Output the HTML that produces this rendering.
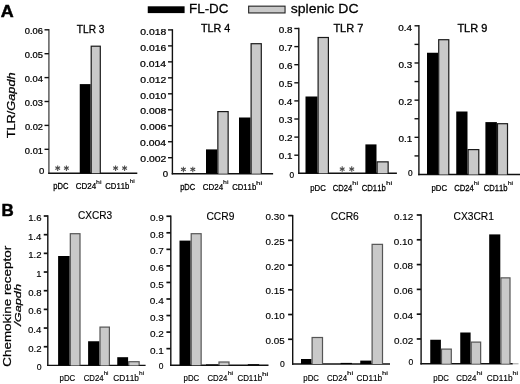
<!DOCTYPE html>
<html><head><meta charset="utf-8"><style>
html,body{margin:0;padding:0;background:#fff;width:520px;height:384px;overflow:hidden}
svg{display:block;will-change:transform}
text{font-family:"Liberation Sans", sans-serif;font-kerning:none}
</style></head><body>
<svg width="520" height="384" viewBox="0 0 520 384" font-family='"Liberation Sans", sans-serif' style="font-kerning:none">
<rect width="520" height="384" fill="#fff"/>
<line x1="48.90" y1="29.10" x2="48.90" y2="173.90" stroke="#505050" stroke-width="1.4"/>
<line x1="48.20" y1="173.20" x2="137.30" y2="173.20" stroke="#111" stroke-width="1.4"/>
<line x1="44.50" y1="149.30" x2="48.90" y2="149.30" stroke="#111" stroke-width="1.4"/>
<line x1="44.50" y1="125.40" x2="48.90" y2="125.40" stroke="#111" stroke-width="1.4"/>
<line x1="44.50" y1="101.50" x2="48.90" y2="101.50" stroke="#111" stroke-width="1.4"/>
<line x1="44.50" y1="77.60" x2="48.90" y2="77.60" stroke="#111" stroke-width="1.4"/>
<line x1="44.50" y1="53.70" x2="48.90" y2="53.70" stroke="#111" stroke-width="1.4"/>
<line x1="44.50" y1="29.80" x2="48.90" y2="29.80" stroke="#111" stroke-width="1.4"/>
<rect x="79.75" y="84.10" width="10.85" height="89.10" fill="#000"/>
<rect x="90.60" y="45.60" width="10.30" height="127.60" fill="#1a1a1a"/>
<rect x="91.80" y="46.80" width="7.90" height="126.40" fill="#c9c9c9"/>
<line x1="57.70" y1="165.45" x2="57.70" y2="170.95" stroke="#4a4a4a" stroke-width="1.05"/>
<line x1="55.32" y1="166.82" x2="60.08" y2="169.57" stroke="#4a4a4a" stroke-width="1.05"/>
<line x1="60.08" y1="166.82" x2="55.32" y2="169.57" stroke="#4a4a4a" stroke-width="1.05"/>
<line x1="66.40" y1="165.45" x2="66.40" y2="170.95" stroke="#4a4a4a" stroke-width="1.05"/>
<line x1="64.02" y1="166.82" x2="68.78" y2="169.57" stroke="#4a4a4a" stroke-width="1.05"/>
<line x1="68.78" y1="166.82" x2="64.02" y2="169.57" stroke="#4a4a4a" stroke-width="1.05"/>
<line x1="115.60" y1="165.45" x2="115.60" y2="170.95" stroke="#4a4a4a" stroke-width="1.05"/>
<line x1="113.22" y1="166.82" x2="117.98" y2="169.57" stroke="#4a4a4a" stroke-width="1.05"/>
<line x1="117.98" y1="166.82" x2="113.22" y2="169.57" stroke="#4a4a4a" stroke-width="1.05"/>
<line x1="124.60" y1="165.45" x2="124.60" y2="170.95" stroke="#4a4a4a" stroke-width="1.05"/>
<line x1="122.22" y1="166.82" x2="126.98" y2="169.57" stroke="#4a4a4a" stroke-width="1.05"/>
<line x1="126.98" y1="166.82" x2="122.22" y2="169.57" stroke="#4a4a4a" stroke-width="1.05"/>
<line x1="172.40" y1="29.20" x2="172.40" y2="174.40" stroke="#111" stroke-width="1.4"/>
<line x1="171.70" y1="173.70" x2="273.10" y2="173.70" stroke="#111" stroke-width="1.4"/>
<line x1="168.00" y1="157.72" x2="172.40" y2="157.72" stroke="#111" stroke-width="1.4"/>
<line x1="168.00" y1="141.74" x2="172.40" y2="141.74" stroke="#111" stroke-width="1.4"/>
<line x1="168.00" y1="125.77" x2="172.40" y2="125.77" stroke="#111" stroke-width="1.4"/>
<line x1="168.00" y1="109.79" x2="172.40" y2="109.79" stroke="#111" stroke-width="1.4"/>
<line x1="168.00" y1="93.81" x2="172.40" y2="93.81" stroke="#111" stroke-width="1.4"/>
<line x1="168.00" y1="77.83" x2="172.40" y2="77.83" stroke="#111" stroke-width="1.4"/>
<line x1="168.00" y1="61.86" x2="172.40" y2="61.86" stroke="#111" stroke-width="1.4"/>
<line x1="168.00" y1="45.88" x2="172.40" y2="45.88" stroke="#111" stroke-width="1.4"/>
<line x1="168.00" y1="29.90" x2="172.40" y2="29.90" stroke="#111" stroke-width="1.4"/>
<rect x="206.00" y="149.40" width="11.25" height="24.30" fill="#000"/>
<rect x="217.25" y="111.00" width="11.50" height="62.70" fill="#1a1a1a"/>
<rect x="218.45" y="112.20" width="9.10" height="61.50" fill="#c9c9c9"/>
<rect x="239.00" y="117.50" width="11.50" height="56.20" fill="#000"/>
<rect x="250.50" y="43.10" width="11.40" height="130.60" fill="#1a1a1a"/>
<rect x="251.70" y="44.30" width="9.00" height="129.40" fill="#c9c9c9"/>
<line x1="183.40" y1="166.65" x2="183.40" y2="172.15" stroke="#4a4a4a" stroke-width="1.05"/>
<line x1="181.02" y1="168.03" x2="185.78" y2="170.78" stroke="#4a4a4a" stroke-width="1.05"/>
<line x1="185.78" y1="168.03" x2="181.02" y2="170.78" stroke="#4a4a4a" stroke-width="1.05"/>
<line x1="192.80" y1="166.65" x2="192.80" y2="172.15" stroke="#4a4a4a" stroke-width="1.05"/>
<line x1="190.42" y1="168.03" x2="195.18" y2="170.78" stroke="#4a4a4a" stroke-width="1.05"/>
<line x1="195.18" y1="168.03" x2="190.42" y2="170.78" stroke="#4a4a4a" stroke-width="1.05"/>
<line x1="298.80" y1="27.80" x2="298.80" y2="174.00" stroke="#111" stroke-width="1.4"/>
<line x1="298.10" y1="173.30" x2="396.90" y2="173.30" stroke="#111" stroke-width="1.4"/>
<line x1="294.30" y1="155.20" x2="298.80" y2="155.20" stroke="#111" stroke-width="1.4"/>
<line x1="294.30" y1="137.10" x2="298.80" y2="137.10" stroke="#111" stroke-width="1.4"/>
<line x1="294.30" y1="119.00" x2="298.80" y2="119.00" stroke="#111" stroke-width="1.4"/>
<line x1="294.30" y1="100.90" x2="298.80" y2="100.90" stroke="#111" stroke-width="1.4"/>
<line x1="294.30" y1="82.80" x2="298.80" y2="82.80" stroke="#111" stroke-width="1.4"/>
<line x1="294.30" y1="64.70" x2="298.80" y2="64.70" stroke="#111" stroke-width="1.4"/>
<line x1="294.30" y1="46.60" x2="298.80" y2="46.60" stroke="#111" stroke-width="1.4"/>
<line x1="294.30" y1="28.50" x2="298.80" y2="28.50" stroke="#111" stroke-width="1.4"/>
<rect x="305.50" y="96.50" width="12.00" height="76.80" fill="#000"/>
<rect x="317.50" y="36.90" width="11.50" height="136.40" fill="#1a1a1a"/>
<rect x="318.70" y="38.10" width="9.10" height="135.20" fill="#c9c9c9"/>
<rect x="365.40" y="144.40" width="11.10" height="28.90" fill="#000"/>
<rect x="376.50" y="161.25" width="12.25" height="12.05" fill="#1a1a1a"/>
<rect x="377.70" y="162.45" width="9.85" height="10.85" fill="#c9c9c9"/>
<line x1="342.20" y1="166.35" x2="342.20" y2="171.85" stroke="#4a4a4a" stroke-width="1.05"/>
<line x1="339.82" y1="167.72" x2="344.58" y2="170.47" stroke="#4a4a4a" stroke-width="1.05"/>
<line x1="344.58" y1="167.72" x2="339.82" y2="170.47" stroke="#4a4a4a" stroke-width="1.05"/>
<line x1="351.75" y1="166.35" x2="351.75" y2="171.85" stroke="#4a4a4a" stroke-width="1.05"/>
<line x1="349.37" y1="167.72" x2="354.13" y2="170.47" stroke="#4a4a4a" stroke-width="1.05"/>
<line x1="354.13" y1="167.72" x2="349.37" y2="170.47" stroke="#4a4a4a" stroke-width="1.05"/>
<line x1="418.90" y1="25.10" x2="418.90" y2="175.20" stroke="#111" stroke-width="1.4"/>
<line x1="418.20" y1="174.50" x2="520.00" y2="174.50" stroke="#111" stroke-width="1.4"/>
<line x1="414.50" y1="155.91" x2="418.90" y2="155.91" stroke="#111" stroke-width="1.4"/>
<line x1="414.50" y1="137.32" x2="418.90" y2="137.32" stroke="#111" stroke-width="1.4"/>
<line x1="414.50" y1="118.74" x2="418.90" y2="118.74" stroke="#111" stroke-width="1.4"/>
<line x1="414.50" y1="100.15" x2="418.90" y2="100.15" stroke="#111" stroke-width="1.4"/>
<line x1="414.50" y1="81.56" x2="418.90" y2="81.56" stroke="#111" stroke-width="1.4"/>
<line x1="414.50" y1="62.98" x2="418.90" y2="62.98" stroke="#111" stroke-width="1.4"/>
<line x1="414.50" y1="44.39" x2="418.90" y2="44.39" stroke="#111" stroke-width="1.4"/>
<line x1="414.50" y1="25.80" x2="418.90" y2="25.80" stroke="#111" stroke-width="1.4"/>
<rect x="427.00" y="52.75" width="11.10" height="121.75" fill="#000"/>
<rect x="438.10" y="39.10" width="11.30" height="135.40" fill="#1a1a1a"/>
<rect x="439.30" y="40.30" width="8.90" height="134.20" fill="#c9c9c9"/>
<rect x="456.25" y="111.50" width="11.25" height="63.00" fill="#000"/>
<rect x="467.50" y="149.00" width="11.90" height="25.50" fill="#1a1a1a"/>
<rect x="468.70" y="150.20" width="9.50" height="24.30" fill="#c9c9c9"/>
<rect x="485.40" y="122.10" width="11.50" height="52.40" fill="#000"/>
<rect x="496.90" y="123.10" width="11.20" height="51.40" fill="#1a1a1a"/>
<rect x="498.10" y="124.30" width="8.80" height="50.20" fill="#c9c9c9"/>
<line x1="47.80" y1="215.30" x2="47.80" y2="366.10" stroke="#111" stroke-width="1.4"/>
<line x1="47.10" y1="365.40" x2="145.60" y2="365.40" stroke="#111" stroke-width="1.4"/>
<line x1="43.75" y1="346.72" x2="47.80" y2="346.72" stroke="#111" stroke-width="1.7"/>
<line x1="43.75" y1="328.05" x2="47.80" y2="328.05" stroke="#111" stroke-width="1.7"/>
<line x1="43.75" y1="309.38" x2="47.80" y2="309.38" stroke="#111" stroke-width="1.7"/>
<line x1="43.75" y1="290.70" x2="47.80" y2="290.70" stroke="#111" stroke-width="1.7"/>
<line x1="43.75" y1="272.02" x2="47.80" y2="272.02" stroke="#111" stroke-width="1.7"/>
<line x1="43.75" y1="253.35" x2="47.80" y2="253.35" stroke="#111" stroke-width="1.7"/>
<line x1="43.75" y1="234.68" x2="47.80" y2="234.68" stroke="#111" stroke-width="1.7"/>
<line x1="43.75" y1="216.00" x2="47.80" y2="216.00" stroke="#111" stroke-width="1.7"/>
<rect x="58.10" y="256.00" width="11.60" height="109.40" fill="#000"/>
<rect x="69.70" y="233.10" width="10.90" height="132.30" fill="#555"/>
<rect x="70.90" y="234.30" width="8.50" height="131.10" fill="#c9c9c9"/>
<rect x="88.10" y="341.25" width="11.30" height="24.15" fill="#000"/>
<rect x="99.40" y="326.50" width="10.60" height="38.90" fill="#555"/>
<rect x="100.60" y="327.70" width="8.20" height="37.70" fill="#c9c9c9"/>
<rect x="117.25" y="357.20" width="10.85" height="8.20" fill="#000"/>
<rect x="128.10" y="361.10" width="11.65" height="4.30" fill="#555"/>
<rect x="129.30" y="362.30" width="9.25" height="3.10" fill="#c9c9c9"/>
<line x1="170.80" y1="215.55" x2="170.80" y2="365.90" stroke="#111" stroke-width="1.4"/>
<line x1="170.10" y1="365.20" x2="268.50" y2="365.20" stroke="#111" stroke-width="1.4"/>
<line x1="166.40" y1="348.65" x2="170.80" y2="348.65" stroke="#111" stroke-width="1.7"/>
<line x1="166.40" y1="332.10" x2="170.80" y2="332.10" stroke="#111" stroke-width="1.7"/>
<line x1="166.40" y1="315.55" x2="170.80" y2="315.55" stroke="#111" stroke-width="1.7"/>
<line x1="166.40" y1="299.00" x2="170.80" y2="299.00" stroke="#111" stroke-width="1.7"/>
<line x1="166.40" y1="282.45" x2="170.80" y2="282.45" stroke="#111" stroke-width="1.7"/>
<line x1="166.40" y1="265.90" x2="170.80" y2="265.90" stroke="#111" stroke-width="1.7"/>
<line x1="166.40" y1="249.35" x2="170.80" y2="249.35" stroke="#111" stroke-width="1.7"/>
<line x1="166.40" y1="232.80" x2="170.80" y2="232.80" stroke="#111" stroke-width="1.7"/>
<line x1="166.40" y1="216.25" x2="170.80" y2="216.25" stroke="#111" stroke-width="1.7"/>
<rect x="179.50" y="240.60" width="11.10" height="124.60" fill="#000"/>
<rect x="190.60" y="233.10" width="11.15" height="132.10" fill="#555"/>
<rect x="191.80" y="234.30" width="8.75" height="130.90" fill="#c9c9c9"/>
<rect x="206.00" y="364.40" width="12.40" height="0.80" fill="#000"/>
<rect x="218.40" y="361.40" width="11.20" height="3.80" fill="#555"/>
<rect x="219.60" y="362.60" width="8.80" height="2.60" fill="#c9c9c9"/>
<rect x="247.80" y="364.20" width="11.40" height="1.00" fill="#000"/>
<line x1="292.70" y1="214.90" x2="292.70" y2="364.70" stroke="#111" stroke-width="1.4"/>
<line x1="292.00" y1="364.00" x2="390.00" y2="364.00" stroke="#111" stroke-width="1.4"/>
<line x1="288.10" y1="339.27" x2="292.70" y2="339.27" stroke="#111" stroke-width="1.7"/>
<line x1="288.10" y1="314.53" x2="292.70" y2="314.53" stroke="#111" stroke-width="1.7"/>
<line x1="288.10" y1="289.80" x2="292.70" y2="289.80" stroke="#111" stroke-width="1.7"/>
<line x1="288.10" y1="265.07" x2="292.70" y2="265.07" stroke="#111" stroke-width="1.7"/>
<line x1="288.10" y1="240.33" x2="292.70" y2="240.33" stroke="#111" stroke-width="1.7"/>
<line x1="288.10" y1="215.60" x2="292.70" y2="215.60" stroke="#111" stroke-width="1.7"/>
<rect x="301.00" y="359.00" width="10.50" height="5.00" fill="#000"/>
<rect x="311.50" y="336.90" width="11.60" height="27.10" fill="#555"/>
<rect x="312.70" y="338.10" width="9.20" height="25.90" fill="#c9c9c9"/>
<rect x="340.60" y="362.90" width="11.30" height="1.10" fill="#000"/>
<rect x="360.25" y="360.60" width="11.25" height="3.40" fill="#000"/>
<rect x="371.50" y="243.75" width="11.60" height="120.25" fill="#555"/>
<rect x="372.70" y="244.95" width="9.20" height="119.05" fill="#c9c9c9"/>
<line x1="421.10" y1="214.30" x2="421.10" y2="364.45" stroke="#111" stroke-width="1.4"/>
<line x1="420.40" y1="363.75" x2="512.80" y2="363.75" stroke="#111" stroke-width="1.4"/>
<line x1="416.75" y1="338.96" x2="421.10" y2="338.96" stroke="#111" stroke-width="1.7"/>
<line x1="416.75" y1="314.17" x2="421.10" y2="314.17" stroke="#111" stroke-width="1.7"/>
<line x1="416.75" y1="289.38" x2="421.10" y2="289.38" stroke="#111" stroke-width="1.7"/>
<line x1="416.75" y1="264.58" x2="421.10" y2="264.58" stroke="#111" stroke-width="1.7"/>
<line x1="416.75" y1="239.79" x2="421.10" y2="239.79" stroke="#111" stroke-width="1.7"/>
<line x1="416.75" y1="215.00" x2="421.10" y2="215.00" stroke="#111" stroke-width="1.7"/>
<rect x="430.25" y="339.75" width="10.65" height="24.00" fill="#000"/>
<rect x="440.90" y="348.50" width="11.00" height="15.25" fill="#555"/>
<rect x="442.10" y="349.70" width="8.60" height="14.05" fill="#c9c9c9"/>
<rect x="460.25" y="332.50" width="10.35" height="31.25" fill="#000"/>
<rect x="470.60" y="341.50" width="10.65" height="22.25" fill="#555"/>
<rect x="471.80" y="342.70" width="8.25" height="21.05" fill="#c9c9c9"/>
<rect x="489.20" y="234.40" width="11.10" height="129.35" fill="#000"/>
<rect x="500.30" y="277.25" width="10.30" height="86.50" fill="#555"/>
<rect x="501.50" y="278.45" width="7.90" height="85.30" fill="#c9c9c9"/>
<line x1="512.80" y1="363.75" x2="518.50" y2="363.75" stroke="#b0b0b0" stroke-width="1.2"/>
<text transform="translate(24.87 153.79) scale(1.106 1)" font-size="8.45" font-weight="normal" font-style="normal" fill="#000" stroke="#000" stroke-width="0.22" >0.01</text>
<text transform="translate(24.88 129.89) scale(1.106 1)" font-size="8.45" font-weight="normal" font-style="normal" fill="#000" stroke="#000" stroke-width="0.22" >0.02</text>
<text transform="translate(24.82 105.99) scale(1.106 1)" font-size="8.45" font-weight="normal" font-style="normal" fill="#000" stroke="#000" stroke-width="0.22" >0.03</text>
<text transform="translate(24.68 82.09) scale(1.106 1)" font-size="8.45" font-weight="normal" font-style="normal" fill="#000" stroke="#000" stroke-width="0.22" >0.04</text>
<text transform="translate(24.80 58.19) scale(1.106 1)" font-size="8.45" font-weight="normal" font-style="normal" fill="#000" stroke="#000" stroke-width="0.22" >0.05</text>
<text transform="translate(24.82 34.29) scale(1.106 1)" font-size="8.45" font-weight="normal" font-style="normal" fill="#000" stroke="#000" stroke-width="0.22" >0.06</text>
<text transform="translate(38.92 174.49) scale(1.138 1)" font-size="8.45" font-weight="normal" font-style="normal" fill="#000" stroke="#000" stroke-width="0.22" >0</text>
<text transform="translate(140.35 162.41) scale(1.233 1)" font-size="8.45" font-weight="normal" font-style="normal" fill="#000" stroke="#000" stroke-width="0.22" >0.002</text>
<text transform="translate(140.12 146.43) scale(1.233 1)" font-size="8.45" font-weight="normal" font-style="normal" fill="#000" stroke="#000" stroke-width="0.22" >0.004</text>
<text transform="translate(140.28 130.46) scale(1.233 1)" font-size="8.45" font-weight="normal" font-style="normal" fill="#000" stroke="#000" stroke-width="0.22" >0.006</text>
<text transform="translate(140.27 114.48) scale(1.233 1)" font-size="8.45" font-weight="normal" font-style="normal" fill="#000" stroke="#000" stroke-width="0.22" >0.008</text>
<text transform="translate(140.23 98.50) scale(1.233 1)" font-size="8.45" font-weight="normal" font-style="normal" fill="#000" stroke="#000" stroke-width="0.22" >0.010</text>
<text transform="translate(140.35 82.52) scale(1.233 1)" font-size="8.45" font-weight="normal" font-style="normal" fill="#000" stroke="#000" stroke-width="0.22" >0.012</text>
<text transform="translate(140.12 66.55) scale(1.233 1)" font-size="8.45" font-weight="normal" font-style="normal" fill="#000" stroke="#000" stroke-width="0.22" >0.014</text>
<text transform="translate(140.28 50.57) scale(1.233 1)" font-size="8.45" font-weight="normal" font-style="normal" fill="#000" stroke="#000" stroke-width="0.22" >0.016</text>
<text transform="translate(140.27 34.59) scale(1.233 1)" font-size="8.45" font-weight="normal" font-style="normal" fill="#000" stroke="#000" stroke-width="0.22" >0.018</text>
<text transform="translate(162.67 177.24) scale(1.138 1)" font-size="8.45" font-weight="normal" font-style="normal" fill="#000" stroke="#000" stroke-width="0.22" >0</text>
<text transform="translate(278.81 159.39) scale(1.172 1)" font-size="8.45" font-weight="normal" font-style="normal" fill="#000" stroke="#000" stroke-width="0.22" >0.1</text>
<text transform="translate(278.82 141.29) scale(1.172 1)" font-size="8.45" font-weight="normal" font-style="normal" fill="#000" stroke="#000" stroke-width="0.22" >0.2</text>
<text transform="translate(278.76 123.19) scale(1.172 1)" font-size="8.45" font-weight="normal" font-style="normal" fill="#000" stroke="#000" stroke-width="0.22" >0.3</text>
<text transform="translate(278.61 105.09) scale(1.173 1)" font-size="8.45" font-weight="normal" font-style="normal" fill="#000" stroke="#000" stroke-width="0.22" >0.4</text>
<text transform="translate(278.74 86.99) scale(1.172 1)" font-size="8.45" font-weight="normal" font-style="normal" fill="#000" stroke="#000" stroke-width="0.22" >0.5</text>
<text transform="translate(278.76 68.89) scale(1.172 1)" font-size="8.45" font-weight="normal" font-style="normal" fill="#000" stroke="#000" stroke-width="0.22" >0.6</text>
<text transform="translate(278.82 50.79) scale(1.172 1)" font-size="8.45" font-weight="normal" font-style="normal" fill="#000" stroke="#000" stroke-width="0.22" >0.7</text>
<text transform="translate(278.75 32.69) scale(1.172 1)" font-size="8.45" font-weight="normal" font-style="normal" fill="#000" stroke="#000" stroke-width="0.22" >0.8</text>
<text transform="translate(289.40 177.79) scale(0.982 1)" font-size="8.45" font-weight="normal" font-style="normal" fill="#000" stroke="#000" stroke-width="0.22" >0</text>
<text transform="translate(398.51 142.11) scale(1.172 1)" font-size="8.45" font-weight="normal" font-style="normal" fill="#000" stroke="#000" stroke-width="0.22" >0.1</text>
<text transform="translate(398.52 104.94) scale(1.172 1)" font-size="8.45" font-weight="normal" font-style="normal" fill="#000" stroke="#000" stroke-width="0.22" >0.2</text>
<text transform="translate(398.46 67.77) scale(1.172 1)" font-size="8.45" font-weight="normal" font-style="normal" fill="#000" stroke="#000" stroke-width="0.22" >0.3</text>
<text transform="translate(398.31 30.59) scale(1.173 1)" font-size="8.45" font-weight="normal" font-style="normal" fill="#000" stroke="#000" stroke-width="0.22" >0.4</text>
<text transform="translate(407.90 175.89) scale(0.982 1)" font-size="8.45" font-weight="normal" font-style="normal" fill="#000" stroke="#000" stroke-width="0.22" >0</text>
<text transform="translate(28.22 351.60) scale(1.010 1)" font-size="9.53" font-weight="normal" font-style="normal" fill="#000" stroke="#000" stroke-width="0.15" >0.2</text>
<text transform="translate(28.02 332.92) scale(1.010 1)" font-size="9.53" font-weight="normal" font-style="normal" fill="#000" stroke="#000" stroke-width="0.15" >0.4</text>
<text transform="translate(28.16 314.25) scale(1.010 1)" font-size="9.53" font-weight="normal" font-style="normal" fill="#000" stroke="#000" stroke-width="0.15" >0.6</text>
<text transform="translate(28.16 295.57) scale(1.010 1)" font-size="9.53" font-weight="normal" font-style="normal" fill="#000" stroke="#000" stroke-width="0.15" >0.8</text>
<text transform="translate(36.36 276.90) scale(0.986 1)" font-size="9.53" font-weight="normal" font-style="normal" fill="#000" stroke="#000" stroke-width="0.15" >1</text>
<text transform="translate(28.23 258.23) scale(1.010 1)" font-size="9.53" font-weight="normal" font-style="normal" fill="#000" stroke="#000" stroke-width="0.15" >1.2</text>
<text transform="translate(28.02 239.55) scale(1.010 1)" font-size="9.53" font-weight="normal" font-style="normal" fill="#000" stroke="#000" stroke-width="0.15" >1.4</text>
<text transform="translate(28.16 220.88) scale(1.010 1)" font-size="9.53" font-weight="normal" font-style="normal" fill="#000" stroke="#000" stroke-width="0.15" >1.6</text>
<text transform="translate(36.66 370.32) scale(0.988 1)" font-size="8.83" font-weight="normal" font-style="normal" fill="#000" stroke="#000" stroke-width="0.15" >0</text>
<text transform="translate(149.98 353.72) scale(1.051 1)" font-size="9.53" font-weight="normal" font-style="normal" fill="#000" stroke="#000" stroke-width="0.15" >0.1</text>
<text transform="translate(150.00 337.18) scale(1.051 1)" font-size="9.53" font-weight="normal" font-style="normal" fill="#000" stroke="#000" stroke-width="0.15" >0.2</text>
<text transform="translate(149.94 320.62) scale(1.051 1)" font-size="9.53" font-weight="normal" font-style="normal" fill="#000" stroke="#000" stroke-width="0.15" >0.3</text>
<text transform="translate(149.79 304.07) scale(1.051 1)" font-size="9.53" font-weight="normal" font-style="normal" fill="#000" stroke="#000" stroke-width="0.15" >0.4</text>
<text transform="translate(149.92 287.52) scale(1.051 1)" font-size="9.53" font-weight="normal" font-style="normal" fill="#000" stroke="#000" stroke-width="0.15" >0.5</text>
<text transform="translate(149.94 270.97) scale(1.051 1)" font-size="9.53" font-weight="normal" font-style="normal" fill="#000" stroke="#000" stroke-width="0.15" >0.6</text>
<text transform="translate(150.00 254.43) scale(1.051 1)" font-size="9.53" font-weight="normal" font-style="normal" fill="#000" stroke="#000" stroke-width="0.15" >0.7</text>
<text transform="translate(149.93 237.88) scale(1.051 1)" font-size="9.53" font-weight="normal" font-style="normal" fill="#000" stroke="#000" stroke-width="0.15" >0.8</text>
<text transform="translate(149.97 221.32) scale(1.051 1)" font-size="9.53" font-weight="normal" font-style="normal" fill="#000" stroke="#000" stroke-width="0.15" >0.9</text>
<text transform="translate(158.66 368.53) scale(0.988 1)" font-size="8.55" font-weight="normal" font-style="normal" fill="#000" stroke="#000" stroke-width="0.15" >0</text>
<text transform="translate(265.56 343.84) scale(1.065 1)" font-size="9.25" font-weight="normal" font-style="normal" fill="#000" stroke="#000" stroke-width="0.15" >0.05</text>
<text transform="translate(265.53 319.11) scale(1.065 1)" font-size="9.25" font-weight="normal" font-style="normal" fill="#000" stroke="#000" stroke-width="0.15" >0.10</text>
<text transform="translate(265.56 294.38) scale(1.065 1)" font-size="9.25" font-weight="normal" font-style="normal" fill="#000" stroke="#000" stroke-width="0.15" >0.15</text>
<text transform="translate(265.53 269.64) scale(1.065 1)" font-size="9.25" font-weight="normal" font-style="normal" fill="#000" stroke="#000" stroke-width="0.15" >0.20</text>
<text transform="translate(265.56 244.91) scale(1.065 1)" font-size="9.25" font-weight="normal" font-style="normal" fill="#000" stroke="#000" stroke-width="0.15" >0.25</text>
<text transform="translate(265.53 220.18) scale(1.065 1)" font-size="9.25" font-weight="normal" font-style="normal" fill="#000" stroke="#000" stroke-width="0.15" >0.30</text>
<text transform="translate(279.89 366.82) scale(0.988 1)" font-size="8.69" font-weight="normal" font-style="normal" fill="#000" stroke="#000" stroke-width="0.15" >0</text>
<text transform="translate(393.89 343.78) scale(1.055 1)" font-size="9.39" font-weight="normal" font-style="normal" fill="#000" stroke="#000" stroke-width="0.15" >0.02</text>
<text transform="translate(393.68 318.99) scale(1.055 1)" font-size="9.39" font-weight="normal" font-style="normal" fill="#000" stroke="#000" stroke-width="0.15" >0.04</text>
<text transform="translate(393.83 294.20) scale(1.055 1)" font-size="9.39" font-weight="normal" font-style="normal" fill="#000" stroke="#000" stroke-width="0.15" >0.06</text>
<text transform="translate(393.82 269.41) scale(1.055 1)" font-size="9.39" font-weight="normal" font-style="normal" fill="#000" stroke="#000" stroke-width="0.15" >0.08</text>
<text transform="translate(393.78 244.62) scale(1.055 1)" font-size="9.39" font-weight="normal" font-style="normal" fill="#000" stroke="#000" stroke-width="0.15" >0.10</text>
<text transform="translate(393.89 219.83) scale(1.055 1)" font-size="9.39" font-weight="normal" font-style="normal" fill="#000" stroke="#000" stroke-width="0.15" >0.12</text>
<text transform="translate(408.59 364.97) scale(0.988 1)" font-size="8.69" font-weight="normal" font-style="normal" fill="#000" stroke="#000" stroke-width="0.15" >0</text>
<text transform="translate(76.82 32.55) scale(0.968 1)" font-size="10.47" font-weight="normal" font-style="normal" fill="#000" stroke="#000" stroke-width="0.3" >TLR 3</text>
<text transform="translate(200.91 31.75) scale(1.045 1)" font-size="10.32" font-weight="normal" font-style="normal" fill="#000" stroke="#000" stroke-width="0.3" >TLR 4</text>
<text transform="translate(333.40 31.75) scale(1.068 1)" font-size="10.32" font-weight="normal" font-style="normal" fill="#000" stroke="#000" stroke-width="0.3" >TLR 7</text>
<text transform="translate(457.40 31.75) scale(1.066 1)" font-size="10.32" font-weight="normal" font-style="normal" fill="#000" stroke="#000" stroke-width="0.3" >TLR 9</text>
<text transform="translate(78.06 219.33) scale(0.945 1)" font-size="10.68" font-weight="normal" font-style="normal" fill="#000" stroke="#000" stroke-width="0.15" >CXCR3</text>
<text transform="translate(206.45 219.53) scale(0.936 1)" font-size="10.97" font-weight="normal" font-style="normal" fill="#000" stroke="#000" stroke-width="0.15" >CCR9</text>
<text transform="translate(330.80 219.53) scale(0.940 1)" font-size="10.97" font-weight="normal" font-style="normal" fill="#000" stroke="#000" stroke-width="0.15" >CCR6</text>
<text transform="translate(453.56 219.53) scale(0.932 1)" font-size="10.97" font-weight="normal" font-style="normal" fill="#000" stroke="#000" stroke-width="0.15" >CX3CR1</text>
<text transform="translate(0.70 16.65) scale(1.052 1)" font-size="17.01" font-weight="bold" font-style="normal" fill="#000" stroke="#000" stroke-width="0.5" >A</text>
<text transform="translate(1.51 216.05) scale(0.989 1)" font-size="17.15" font-weight="bold" font-style="normal" fill="#000" stroke="#000" stroke-width="0.5" >B</text>
<rect x="147.75" y="6.30" width="36.85" height="6.80" fill="#000"/>
<rect x="248.10" y="5.60" width="37.50" height="7.90" fill="#222"/>
<rect x="249.20" y="6.70" width="35.30" height="5.70" fill="#c9c9c9"/>
<text transform="translate(189.03 12.78) scale(1.036 1)" font-size="12.94" font-weight="normal" font-style="normal" fill="#000" stroke="#000" stroke-width="0.25" >FL-DC</text>
<text transform="translate(290.73 12.78) scale(1.084 1)" font-size="12.94" font-weight="normal" font-style="normal" fill="#000" stroke="#000" stroke-width="0.25" >splenic DC</text>
<text transform="translate(53.24 188.57) scale(0.903 1)" font-size="8.40" font-weight="normal" font-style="normal" fill="#000" stroke="#000" stroke-width="0.25" >pDC</text>
<text transform="translate(75.82 188.57) scale(0.949 1)" font-size="8.40" font-weight="normal" font-style="normal" fill="#000" stroke="#000" stroke-width="0.25" >CD24</text>
<text transform="translate(96.12 183.56) scale(1.288 1)" font-size="5.32" font-weight="normal" font-style="normal" fill="#222" stroke="#222" stroke-width="0.2" >hi</text>
<text transform="translate(105.34 188.57) scale(0.913 1)" font-size="8.40" font-weight="normal" font-style="normal" fill="#000" stroke="#000" stroke-width="0.25" >CD11b</text>
<text transform="translate(129.65 182.71) scale(1.230 1)" font-size="5.32" font-weight="normal" font-style="normal" fill="#222" stroke="#222" stroke-width="0.2" >hi</text>
<text transform="translate(180.14 190.18) scale(0.894 1)" font-size="8.40" font-weight="normal" font-style="normal" fill="#000" stroke="#000" stroke-width="0.25" >pDC</text>
<text transform="translate(202.82 190.18) scale(0.949 1)" font-size="8.40" font-weight="normal" font-style="normal" fill="#000" stroke="#000" stroke-width="0.25" >CD24</text>
<text transform="translate(223.12 184.21) scale(1.288 1)" font-size="5.32" font-weight="normal" font-style="normal" fill="#222" stroke="#222" stroke-width="0.2" >hi</text>
<text transform="translate(232.23 190.18) scale(0.917 1)" font-size="8.40" font-weight="normal" font-style="normal" fill="#000" stroke="#000" stroke-width="0.25" >CD11b</text>
<text transform="translate(256.04 184.86) scale(1.522 1)" font-size="5.32" font-weight="normal" font-style="normal" fill="#222" stroke="#222" stroke-width="0.2" >hi</text>
<text transform="translate(310.22 190.68) scale(0.925 1)" font-size="8.40" font-weight="normal" font-style="normal" fill="#000" stroke="#000" stroke-width="0.25" >pDC</text>
<text transform="translate(332.84 190.68) scale(0.909 1)" font-size="8.40" font-weight="normal" font-style="normal" fill="#000" stroke="#000" stroke-width="0.25" >CD24</text>
<text transform="translate(352.33 185.46) scale(1.405 1)" font-size="5.32" font-weight="normal" font-style="normal" fill="#222" stroke="#222" stroke-width="0.2" >hi</text>
<text transform="translate(361.63 190.68) scale(0.924 1)" font-size="8.40" font-weight="normal" font-style="normal" fill="#000" stroke="#000" stroke-width="0.25" >CD11b</text>
<text transform="translate(386.04 184.86) scale(1.522 1)" font-size="5.32" font-weight="normal" font-style="normal" fill="#222" stroke="#222" stroke-width="0.2" >hi</text>
<text transform="translate(431.52 190.68) scale(0.925 1)" font-size="8.40" font-weight="normal" font-style="normal" fill="#000" stroke="#000" stroke-width="0.25" >pDC</text>
<text transform="translate(454.13 190.68) scale(0.918 1)" font-size="8.40" font-weight="normal" font-style="normal" fill="#000" stroke="#000" stroke-width="0.25" >CD24</text>
<text transform="translate(473.72 185.46) scale(1.303 1)" font-size="5.32" font-weight="normal" font-style="normal" fill="#222" stroke="#222" stroke-width="0.2" >hi</text>
<text transform="translate(483.74 190.68) scale(0.907 1)" font-size="8.40" font-weight="normal" font-style="normal" fill="#000" stroke="#000" stroke-width="0.25" >CD11b</text>
<text transform="translate(507.72 185.46) scale(1.303 1)" font-size="5.32" font-weight="normal" font-style="normal" fill="#222" stroke="#222" stroke-width="0.2" >hi</text>
<text transform="translate(59.57 380.62) scale(0.931 1)" font-size="8.40" font-weight="normal" font-style="normal" fill="#000" stroke="#000" stroke-width="0.15" >pDC</text>
<text transform="translate(83.68 380.62) scale(0.930 1)" font-size="8.40" font-weight="normal" font-style="normal" fill="#000" stroke="#000" stroke-width="0.15" >CD24</text>
<text transform="translate(103.68 374.86) scale(1.142 1)" font-size="5.32" font-weight="normal" font-style="normal" fill="#222" stroke="#222" stroke-width="0.2" >hi</text>
<text transform="translate(113.15 380.62) scale(0.989 1)" font-size="8.40" font-weight="normal" font-style="normal" fill="#000" stroke="#000" stroke-width="0.15" >CD11b</text>
<text transform="translate(139.05 374.86) scale(1.215 1)" font-size="5.32" font-weight="normal" font-style="normal" fill="#222" stroke="#222" stroke-width="0.2" >hi</text>
<text transform="translate(183.57 380.62) scale(0.931 1)" font-size="8.40" font-weight="normal" font-style="normal" fill="#000" stroke="#000" stroke-width="0.15" >pDC</text>
<text transform="translate(207.43 380.62) scale(0.930 1)" font-size="8.40" font-weight="normal" font-style="normal" fill="#000" stroke="#000" stroke-width="0.15" >CD24</text>
<text transform="translate(227.72 374.86) scale(1.303 1)" font-size="5.32" font-weight="normal" font-style="normal" fill="#222" stroke="#222" stroke-width="0.2" >hi</text>
<text transform="translate(237.42 380.62) scale(0.946 1)" font-size="8.40" font-weight="normal" font-style="normal" fill="#000" stroke="#000" stroke-width="0.15" >CD11b</text>
<text transform="translate(262.03 375.86) scale(1.552 1)" font-size="5.32" font-weight="normal" font-style="normal" fill="#222" stroke="#222" stroke-width="0.2" >hi</text>
<text transform="translate(303.32 380.62) scale(0.931 1)" font-size="8.40" font-weight="normal" font-style="normal" fill="#000" stroke="#000" stroke-width="0.15" >pDC</text>
<text transform="translate(326.93 380.62) scale(0.937 1)" font-size="8.40" font-weight="normal" font-style="normal" fill="#000" stroke="#000" stroke-width="0.15" >CD24</text>
<text transform="translate(347.05 374.86) scale(1.478 1)" font-size="5.32" font-weight="normal" font-style="normal" fill="#222" stroke="#222" stroke-width="0.2" >hi</text>
<text transform="translate(356.56 380.62) scale(0.980 1)" font-size="8.40" font-weight="normal" font-style="normal" fill="#000" stroke="#000" stroke-width="0.15" >CD11b</text>
<text transform="translate(382.08 374.86) scale(1.405 1)" font-size="5.32" font-weight="normal" font-style="normal" fill="#222" stroke="#222" stroke-width="0.2" >hi</text>
<text transform="translate(433.32 380.62) scale(0.931 1)" font-size="8.40" font-weight="normal" font-style="normal" fill="#000" stroke="#000" stroke-width="0.15" >pDC</text>
<text transform="translate(456.17 380.62) scale(0.942 1)" font-size="8.40" font-weight="normal" font-style="normal" fill="#000" stroke="#000" stroke-width="0.15" >CD24</text>
<text transform="translate(476.48 374.86) scale(1.405 1)" font-size="5.32" font-weight="normal" font-style="normal" fill="#222" stroke="#222" stroke-width="0.2" >hi</text>
<text transform="translate(486.75 380.62) scale(0.987 1)" font-size="8.40" font-weight="normal" font-style="normal" fill="#000" stroke="#000" stroke-width="0.15" >CD11b</text>
<text transform="translate(512.40 374.96) scale(1.347 1)" font-size="5.32" font-weight="normal" font-style="normal" fill="#222" stroke="#222" stroke-width="0.2" >hi</text>
<text transform="translate(14.57 138.26) rotate(-90) scale(1.211 1)" font-size="10.54" fill="#000" stroke="#000" stroke-width="0.25"><tspan font-style="normal">TLR/</tspan><tspan font-style="italic">Gapdh</tspan></text>
<text transform="translate(11.38 366.66) rotate(-90) scale(1.161 1)" font-size="11.56" fill="#000" stroke="#000" stroke-width="0.25"><tspan font-style="normal">Chemokine receptor</tspan></text>
<text transform="translate(21.27 325.75) rotate(-90) scale(1.299 1)" font-size="9.81" fill="#000" stroke="#000" stroke-width="0.25"><tspan font-style="italic">/Gapdh</tspan></text>
</svg>
</body></html>
